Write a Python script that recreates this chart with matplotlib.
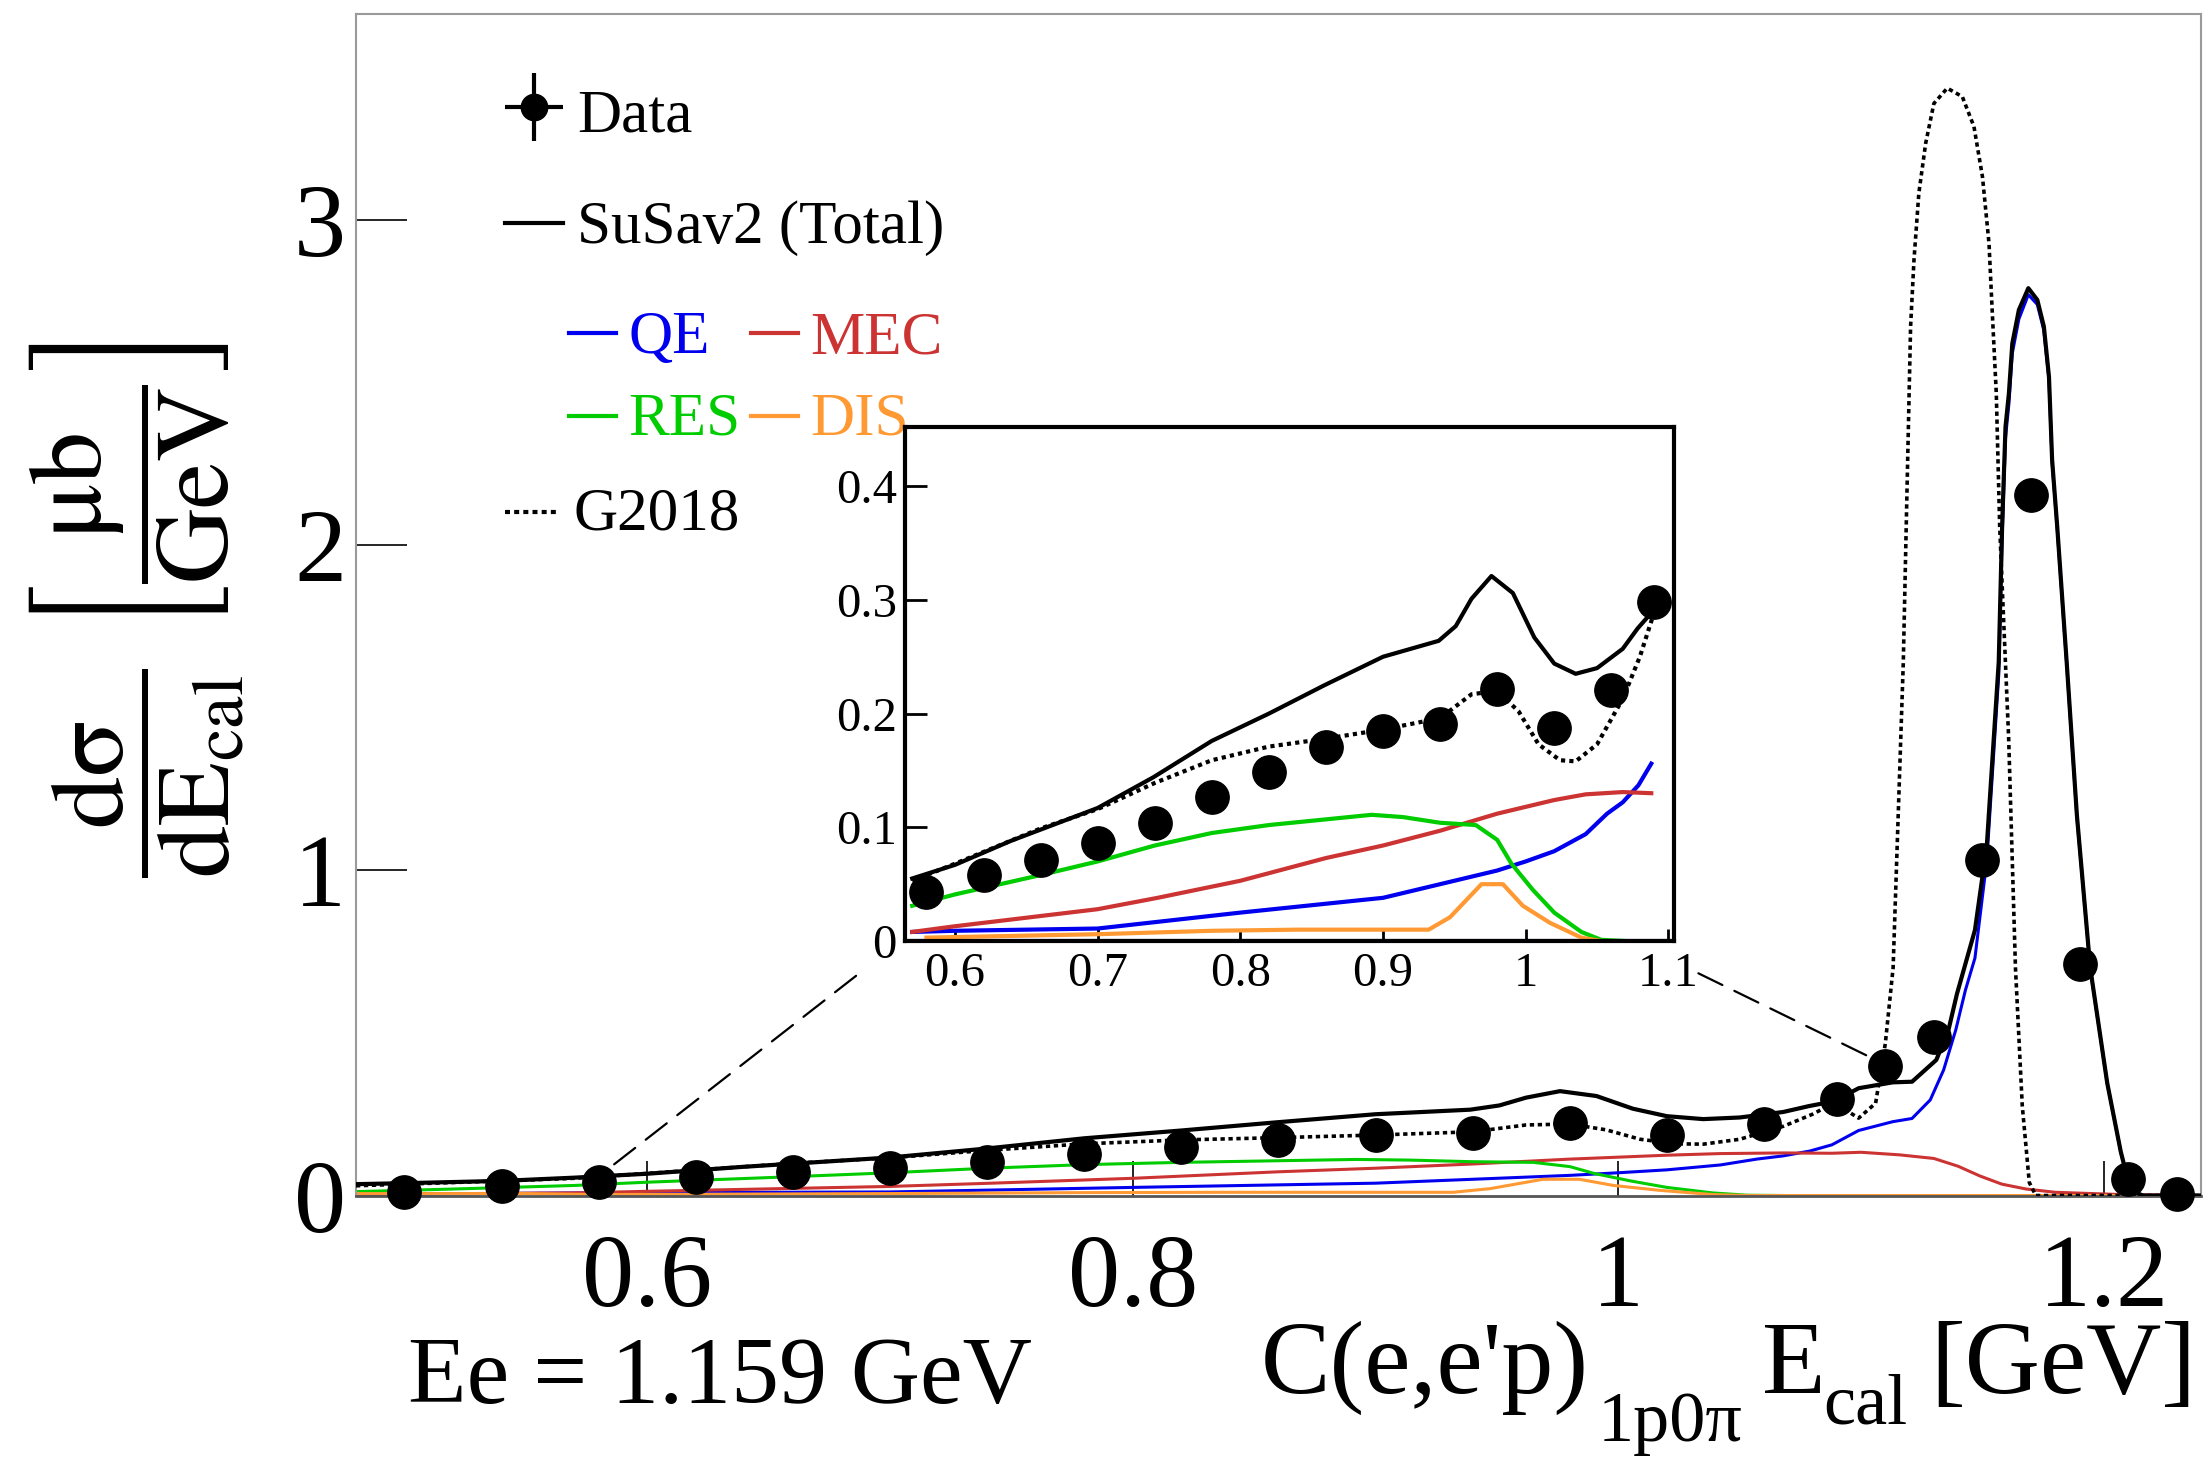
import matplotlib
matplotlib.use("Agg")
import matplotlib.pyplot as plt
from matplotlib.patches import ConnectionPatch
import numpy as np

plt.rcParams["font.family"] = ["Liberation Serif", "DejaVu Serif"]
plt.rcParams["mathtext.fontset"] = "stix"

# ---------------- data ----------------
data_x = [0.50, 0.54, 0.58, 0.62, 0.66, 0.70, 0.74, 0.78, 0.82, 0.86, 0.90, 0.94,
          0.98, 1.02, 1.06, 1.09, 1.11, 1.13, 1.15, 1.17, 1.19, 1.21, 1.23]
data_y = [0.012, 0.030, 0.043, 0.058, 0.071, 0.086, 0.104, 0.127, 0.149, 0.171, 0.185, 0.191,
          0.222, 0.187, 0.221, 0.298, 0.397, 0.487, 1.033, 2.153, 0.711, 0.052, 0.005]

# SuSav2 total
tot_x = [0.48, 0.50, 0.54, 0.57, 0.60, 0.639, 0.70, 0.739, 0.78, 0.82, 0.859, 0.90, 0.939,
         0.951, 0.962, 0.976, 0.991, 1.006, 1.02, 1.035, 1.05, 1.068, 1.0785, 1.089, 1.099,
         1.113, 1.121, 1.131, 1.136, 1.1395, 1.1469, 1.1518, 1.1567, 1.1581, 1.1595, 1.1609,
         1.1623, 1.165, 1.1689, 1.1726, 1.1753, 1.1774, 1.1787, 1.1808, 1.1847, 1.1889,
         1.1944, 1.2014, 1.207, 1.211, 1.216, 1.24]
tot_y = [0.035, 0.038, 0.045, 0.055, 0.067, 0.088, 0.117, 0.144, 0.176, 0.200, 0.225, 0.250, 0.264,
         0.277, 0.301, 0.321, 0.306, 0.267, 0.244, 0.235, 0.240, 0.257, 0.275, 0.290, 0.330,
         0.348, 0.350, 0.417, 0.509, 0.620, 0.816, 1.076, 1.640, 2.057, 2.364, 2.467,
         2.620, 2.723, 2.790, 2.754, 2.672, 2.518, 2.262, 2.057, 1.640, 1.170,
         0.700, 0.346, 0.134, 0.017, 0.0, 0.0]

# QE component
qe_x = [0.48, 0.57, 0.60, 0.70, 0.80, 0.90, 0.94, 0.98, 1.00, 1.02, 1.042, 1.057, 1.068, 1.079,
        1.088, 1.099, 1.113, 1.121, 1.1285, 1.134, 1.139, 1.143, 1.1469, 1.1518, 1.1567, 1.1581,
        1.1595, 1.1609, 1.1623, 1.165, 1.1689, 1.1726, 1.1753, 1.1774, 1.1787, 1.1808, 1.1847,
        1.1889, 1.1944, 1.2014, 1.207, 1.211, 1.216, 1.24]
qe_y = [0.003, 0.008, 0.009, 0.011, 0.025, 0.038, 0.050, 0.062, 0.070, 0.079, 0.094, 0.112, 0.122, 0.137,
        0.156, 0.200, 0.227, 0.237, 0.294, 0.386, 0.509, 0.632, 0.730, 1.030, 1.600, 2.020,
        2.330, 2.435, 2.590, 2.695, 2.770, 2.740, 2.660, 2.508, 2.254, 2.050, 1.635,
        1.165, 0.698, 0.345, 0.133, 0.017, 0.0, 0.0]

# MEC component
mec_x = [0.48, 0.57, 0.60, 0.70, 0.742, 0.80, 0.86, 0.90, 0.94, 0.98, 1.02, 1.042, 1.068, 1.088,
         1.10, 1.116, 1.130, 1.140, 1.149, 1.158, 1.168, 1.18, 1.207, 1.24]
mec_y = [0.004, 0.008, 0.013, 0.028, 0.038, 0.053, 0.073, 0.084, 0.097, 0.112, 0.124, 0.129, 0.131, 0.130,
         0.133, 0.125, 0.114, 0.090, 0.060, 0.035, 0.020, 0.010, 0.003, 0.0]

# RES component
res_x = [0.48, 0.52, 0.57, 0.60, 0.66, 0.70, 0.74, 0.78, 0.82, 0.86, 0.892, 0.914, 0.94, 0.965,
         0.98, 0.99, 1.005, 1.02, 1.039, 1.053, 1.07, 1.24]
res_y = [0.012, 0.020, 0.031, 0.041, 0.058, 0.070, 0.084, 0.095, 0.102, 0.107, 0.111, 0.109, 0.104, 0.102,
         0.089, 0.068, 0.045, 0.025, 0.008, 0.001, 0.0, 0.0]

# DIS component
dis_x = [0.48, 0.55, 0.58, 0.70, 0.78, 0.84, 0.90, 0.932, 0.947, 0.969, 0.984, 0.998, 1.017,
         1.039, 1.053, 1.24]
dis_y = [0.006, 0.006, 0.003, 0.006, 0.009, 0.010, 0.010, 0.010, 0.021, 0.050, 0.050, 0.031, 0.016,
         0.003, 0.0, 0.0]

# G2018 prediction
g18_x = [0.48, 0.50, 0.54, 0.57, 0.60, 0.66, 0.70, 0.74, 0.78, 0.82, 0.86, 0.90, 0.94, 0.962,
         0.98, 0.995, 1.009, 1.024, 1.035, 1.05, 1.068, 1.08, 1.089, 1.099, 1.106, 1.110,
         1.1132, 1.1153, 1.1174, 1.1186, 1.1204, 1.1218, 1.1238, 1.1266, 1.130, 1.1355,
         1.1417, 1.1465, 1.150, 1.1527, 1.1540, 1.1557, 1.1571, 1.1608, 1.1636, 1.1664,
         1.1693, 1.172, 1.24]
g18_y = [0.030, 0.035, 0.045, 0.053, 0.068, 0.099, 0.116, 0.139, 0.159, 0.171, 0.178, 0.186, 0.196, 0.217,
         0.220, 0.202, 0.173, 0.159, 0.158, 0.173, 0.213, 0.250, 0.285, 0.238, 0.284, 0.468,
         0.700, 1.170, 1.640, 2.057, 2.672, 2.877, 3.082, 3.235, 3.358, 3.405,
         3.379, 3.287, 3.133, 2.928, 2.723, 2.467, 2.057, 1.405, 0.700, 0.276,
         0.040, 0.0, 0.0]

main_xticks = [0.6, 0.8, 1.0, 1.2]
main_xticklabels = ["0.6", "0.8", "1", "1.2"]
main_yticks = [0, 1, 2, 3]
inset_xticks = [0.6, 0.7, 0.8, 0.9, 1.0, 1.1]
inset_xticklabels = ["0.6", "0.7", "0.8", "0.9", "1", "1.1"]
inset_yticks = [0, 0.1, 0.2, 0.3, 0.4]
inset_yticklabels = ["0", "0.1", "0.2", "0.3", "0.4"]

C_QE = "#0000ee"
C_MEC = "#cc3333"
C_RES = "#00cc00"
C_DIS = "#ff9933"

components = [(qe_x, qe_y, C_QE), (mec_x, mec_y, C_MEC),
              (res_x, res_y, C_RES), (dis_x, dis_y, C_DIS)]

W, H = 2208, 1461
fig = plt.figure(figsize=(W / 100, H / 100), dpi=100)


def fx(px):
    return px / W


def fy(py):
    return 1 - py / H


# ---------------- main panel ----------------
ax = fig.add_axes([0.1612, 0.1817, 0.8356, 0.8087])

for xs, ys, c in components:
    ax.plot(xs, ys, color=c, lw=2.2, zorder=2)
ax.plot(g18_x, g18_y, color="k", lw=2.6, dashes=(1.2, 1.0), zorder=3)
ax.plot(tot_x, tot_y, color="k", lw=3.0, zorder=4)
ax.plot(data_x, data_y, "o", ms=24, color="k", zorder=6, clip_on=False)

ax.set_xlim(0.48, 1.24)
ax.set_ylim(0, 3.633)
ax.set_xticks(main_xticks)
ax.set_xticklabels(main_xticklabels)
ax.set_yticks(main_yticks)
ax.tick_params(axis="y", direction="in", length=37, width=1.2, pad=7, labelsize=75)
ax.tick_params(axis="x", direction="in", length=25, width=1.2, pad=28, labelsize=75)
for side in ["left", "top", "right"]:
    ax.spines[side].set_color("#9a9a9a")
    ax.spines[side].set_linewidth(1.5)
ax.spines["bottom"].set_color("#555555")
ax.spines["bottom"].set_linewidth(2.0)

# legend drawn by hand in axes coordinates
tr = ax.transAxes
ax.errorbar([0.0965], [0.921], xerr=[0.0157], yerr=[0.0288], fmt="o", ms=19, color="k",
            elinewidth=3, capsize=0, transform=tr, clip_on=False)
ax.text(0.1197, 0.9004, "Data", transform=tr, fontsize=44, va="baseline", ha="left")
ax.plot([0.0808, 0.1121], [0.8228, 0.8228], color="k", lw=3, transform=tr)
ax.text(0.1197, 0.806, "SuSav2 (Total)", transform=tr, fontsize=44, va="baseline", ha="left")
legend_rows = [(0.7298, 0.7128, ("QE", C_QE), ("MEC", C_MEC)),
               (0.6598, 0.6437, ("RES", C_RES), ("DIS", C_DIS))]
for yl, yb, (n1, c1), (n2, c2) in legend_rows:
    ax.plot([0.1156, 0.1409], [yl, yl], color=c1, lw=3, transform=tr)
    ax.text(0.1476, yb, n1, color=c1, transform=tr, fontsize=44, va="baseline", ha="left")
    ax.plot([0.2139, 0.2397], [yl, yl], color=c2, lw=3, transform=tr)
    ax.text(0.2464, yb, n2, color=c2, transform=tr, fontsize=44, va="baseline", ha="left")
ax.plot([0.0808, 0.1106], [0.5788, 0.5788], color="k", lw=3, dashes=(1.2, 1.0), transform=tr)
ax.text(0.1178, 0.5633, "G2018", transform=tr, fontsize=44, va="baseline", ha="left")

# ---------------- inset ----------------
ins = fig.add_axes([0.4099, 0.3559, 0.3483, 0.3518])
ins.set_facecolor("white")
lo, hi = 0.569, 1.0895


def window(xs, ys, upper=hi):
    xs = np.asarray(xs)
    ys = np.asarray(ys)
    m = (xs >= lo) & (xs <= upper)
    return xs[m], ys[m]


for xs, ys, c in components:
    ins.plot(*window(xs, ys), color=c, lw=3, zorder=2)
ins.plot(*window(g18_x, g18_y), color="k", lw=3, dashes=(1.0, 1.0), zorder=3)
ins.plot(*window(tot_x, tot_y), color="k", lw=3, zorder=4)
ins.plot(*window(data_x, data_y, 1.095), "o", ms=24, color="k", zorder=6)
ins.axhline(0, color="#101080", lw=3, zorder=1)

ins.set_xlim(0.565, 1.104)
ins.set_ylim(0, 0.452)
ins.set_xticks(inset_xticks)
ins.set_xticklabels(inset_xticklabels)
ins.set_yticks(inset_yticks)
ins.set_yticklabels(inset_yticklabels)
ins.tick_params(axis="y", direction="in", length=16, width=2, pad=6, labelsize=35)
ins.tick_params(axis="x", direction="in", length=9, width=2, pad=8, labelsize=35)
for s in ins.spines.values():
    s.set_linewidth(3)
    s.set_color("k")

# dashed connectors from the inset to the zoomed region
for xyA, xyB in [((-0.0637, -0.0677), (0.5855, 0.091)),
                 ((1.0316, -0.0628), (1.1033, 0.427))]:
    con = ConnectionPatch(xyA=xyA, coordsA=ins.transAxes, xyB=xyB, coordsB=ax.transData,
                          color="k", lw=1.6, linestyle=(0, (12, 6)))
    fig.add_artist(con)

# ---------------- labels ----------------
fig.text(0.062, 0.5825,
         r"$\dfrac{\mathrm{d}\mathrm{\sigma}}{\mathrm{dE_{cal}}}\ \left[\dfrac{\mathrm{\mu b}}{\mathrm{GeV}}\right]$",
         rotation=90, ha="center", va="center", fontsize=75)

# x-axis title assembled from pieces so the subscripts sit low, as in ROOT
fig.text(fx(1261), fy(1393), "C(e,e'p)", ha="left", va="baseline", fontsize=75)
fig.text(fx(1598), fy(1441), "1p0\u03c0", ha="left", va="baseline", fontsize=52)
fig.text(fx(1762), fy(1393), "E", ha="left", va="baseline", fontsize=75)
fig.text(fx(1823), fy(1423), "cal", ha="left", va="baseline", fontsize=52)
fig.text(fx(2196), fy(1393), "[GeV]", ha="right", va="baseline", fontsize=75)

fig.text(fx(408), fy(1403), "Ee = 1.159 GeV", ha="left", va="baseline", fontsize=69)

fig.savefig("out.png", dpi=100, facecolor="white")
